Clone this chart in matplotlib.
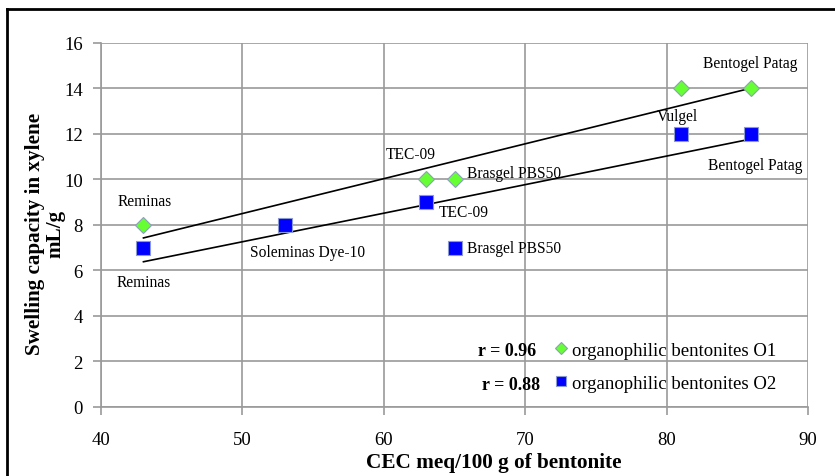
import numpy as np
import matplotlib
matplotlib.use("Agg")
import matplotlib.pyplot as plt
from matplotlib.lines import Line2D

# Datos
cec_o1 = [43, 63, 65, 81, 86]
swell_o1 = [8, 10, 10, 14, 14]
cec_o2 = [43, 53, 63, 65, 81, 86]
swell_o2 = [7, 8, 9, 7, 12, 12]

# Etiquetas de cada muestra (texto, x, y) en coordenadas de datos
labels_o1 = [("Reminas", 41.2, 9.05), ("TEC-09", 60.1, 11.1),
             ("Brasgel PBS50", 65.9, 10.3), ("Bentogel Patag", 82.6, 15.1)]
labels_o2 = [("Reminas", 41.1, 5.5), ("Soleminas Dye-10", 50.5, 6.8),
             ("TEC-09", 63.9, 8.55), ("Brasgel PBS50", 65.9, 7.0),
             ("Vulgel", 79.3, 12.8), ("Bentogel Patag", 82.9, 10.65)]

plt.rcParams['font.family'] = ['Liberation Serif', 'DejaVu Serif']

fig = plt.figure(figsize=(8.35, 4.77), dpi=100)
ax = fig.add_axes([0.121, 0.1447, 0.8467, 0.7631])

gris = '#9a9a9a'
ax.set_xlim(40, 90)
ax.set_ylim(0, 16)
ax.set_xticks(range(40, 91, 10))
ax.set_yticks(range(0, 17, 2))
ax.grid(True, color=gris, linewidth=1.2)
ax.set_axisbelow(True)
for s in ['top', 'right']:
    ax.spines[s].set_visible(False)
for s in ['left', 'bottom']:
    ax.spines[s].set_color(gris)
    ax.spines[s].set_linewidth(1.2)
ax.tick_params(direction='out', length=6, width=1.2, color=gris,
               labelsize=13.5, pad=7)
ax.tick_params(axis='x', pad=11)

# Rectas de tendencia (ajuste lineal)
for xs, ys in [(cec_o1, swell_o1), (cec_o2, swell_o2)]:
    m, b = np.polyfit(xs, ys, 1)
    xx = np.array([min(xs), max(xs)])
    ax.plot(xx, m * xx + b, color='black', linewidth=1.2, zorder=2)

ax.plot(cec_o1, swell_o1, linestyle='none', marker='D', markersize=8.5,
        markerfacecolor='#66ff33', markeredgecolor='#8aa0b8', markeredgewidth=0.8,
        label='organophilic bentonites O1', zorder=3)
ax.plot(cec_o2, swell_o2, linestyle='none', marker='s', markersize=9.5,
        markerfacecolor='#0000ff', markeredgecolor='#8a9ad0', markeredgewidth=0.8,
        label='organophilic bentonites O2', zorder=3)

for txt, x, y in labels_o1 + labels_o2:
    ax.text(x, y, txt, fontsize=11.2, va='center', ha='left')

leg = ax.legend(loc='upper left', bbox_to_anchor=(0.63, 0.200), frameon=False,
                fontsize=13.5, labelspacing=0.85, handlelength=0.8,
                handletextpad=0.15, markerscale=0.75, borderaxespad=0)

ax.text(0.616, 0.155, "r = 0.96", transform=ax.transAxes, fontsize=13,
        fontweight='bold', ha='right', va='center')
ax.text(0.621, 0.062, "r = 0.88", transform=ax.transAxes, fontsize=13,
        fontweight='bold', ha='right', va='center')

ax.set_xlabel("CEC meq/100 g of bentonite", fontsize=15.3, fontweight='bold')
ax.xaxis.set_label_coords(0.556, -0.123)
fig.text(0.054, 0.509, "Swelling capacity in xylene\nmL/g", rotation=90,
         fontsize=15.2, fontweight='bold', ha='center', va='center',
         multialignment='center', linespacing=1.0)

# Marco negro de la figura (solo bordes izquierdo y superior visibles)
fig.add_artist(Line2D([7 / 835, 1.0], [1 - 10 / 477, 1 - 10 / 477],
                      transform=fig.transFigure, color='black', linewidth=2))
fig.add_artist(Line2D([7 / 835, 7 / 835], [0, 1 - 10 / 477],
                      transform=fig.transFigure, color='black', linewidth=2))

fig.savefig("out.png", dpi=100)
